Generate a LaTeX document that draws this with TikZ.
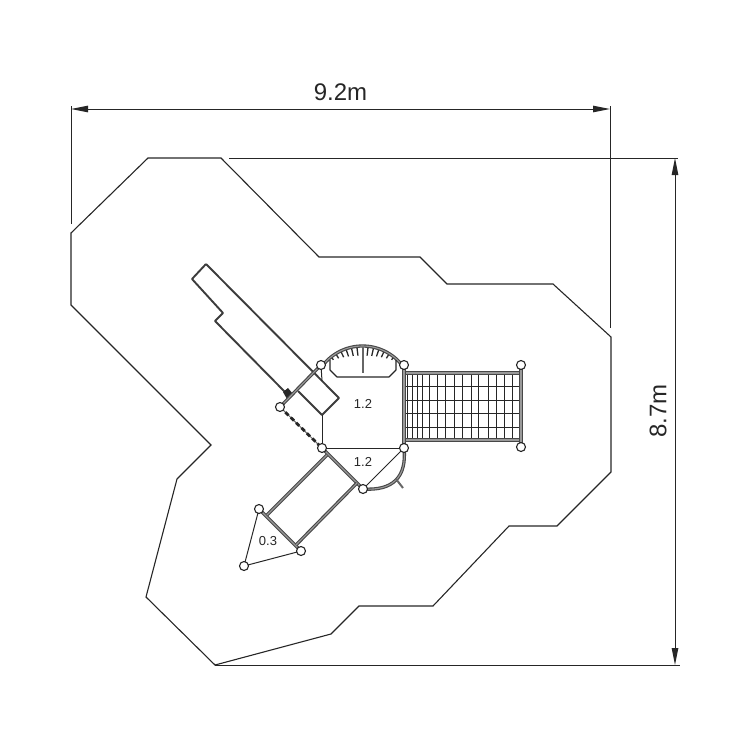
\documentclass[tikz,border=0pt]{standalone}
\usepackage{fontspec}
\setmainfont{Liberation Sans}
\usetikzlibrary{arrows.meta}
\definecolor{ink}{HTML}{262626}
\pgfdeclarelayer{under}
\pgfsetlayers{under,main}
\tikzset{
  thin line/.style={draw=ink,line width=1pt},
  site/.style={draw=ink,line width=1.1pt,line join=miter},
  dim/.style={draw=ink,line width=1pt},
  dimarrow/.style={draw=ink,line width=1pt,{Triangle[length=17pt,width=6.5pt]}-{Triangle[length=17pt,width=6.5pt]}},
  rail/.style={draw=ink!85,line width=1.1pt,double=black!40,double distance=1.1pt},
  heavy/.style={draw=ink!90,line width=1.9pt,line join=round},
  net/.style={draw=ink,line width=1pt},
  post/.style={circle,draw=ink,line width=1.1pt,fill=white,inner sep=0pt,minimum size=9pt},
  label/.style={text=ink,inner sep=0pt,font=\fontsize{13}{13}\selectfont},
  bigtext/.style={text=ink,inner sep=0pt,font=\fontsize{24}{24}\selectfont}
}
\begin{document}
\begin{tikzpicture}[x=1pt,y=-1pt]
\useasboundingbox (0,0) rectangle (750,750);
% posts
\node[post] (p1) at (321,365) {};
\node[post] (p2) at (404,365) {};
\node[post] (p3) at (322,448) {};
\node[post] (p4) at (404,448) {};
\node[post] (p5) at (363,489) {};
\node[post] (p6) at (280,407) {};
\node[post] (p7) at (259,509) {};
\node[post] (p8) at (301,551) {};
\node[post] (p9) at (244,566) {};
\node[post] (p10) at (521,365) {};
\node[post] (p11) at (521,447) {};
% heights
\node[label] (h1) at (363,404) {1.2};
\node[label] (h2) at (363,462) {1.2};
\node[label] (h3) at (268,541) {0.3};
\node[bigtext] (w) at (340.5,92) {9.2m};
\node[bigtext,rotate=90] (h) at (658,411) {8.7m};
\begin{pgfonlayer}{under}
% site outline
\draw[site] (148,158)--(221,158)--(319,257)--(420,257)--(447,284)--(553,284)--(611,337)--(611,472)--(557,526)--(509,526)--(433,606)--(359,606)--(331,634)--(215,665)--(146,597)--(177,479)--(211,445)--(71,305)--(71,233)--cycle;
% dimensions
\coordinate (dl) at (71,109); \coordinate (dr) at (610,109);
\coordinate (dt) at (675,158); \coordinate (db) at (675,665);
\draw[dim] (71,106)--(71,224);
\draw[dim] (610,106)--(610,328);
\draw[dim] (229,158)--(678,158);
\draw[dim] (215,665)--(680,665);
\draw[dimarrow] (dl)--(dr);
\draw[dimarrow] (dt)--(db);
% upper slide
\draw[heavy] (206,264)--(192,279)--(223,313)--(215,321)--(285,392);
\draw[heavy] (206,264)--(339,398)--(322,415)--(298,391);
\fill[ink] (283,392)--(288,388)--(293,394)--(287,399)--cycle;
% platform
\draw[thin line] (p1.center)--(322,381);
\draw[thin line] (322,415)--(p3.center);
\draw[thin line] (p3.center)--(p4.center);
\draw[thin line] (p4.center)--(p5.center);
\draw[thin line] (p7.center)--(p9.center)--(p8.center);
\draw[rail] (p1.center)--(p6.center);
\draw[rail] (p3.center)--(p5.center);
\draw[rail] (p7.center)--(p8.center);
% chain
\draw[draw=ink!70,line width=1pt] (p6.center)--(p3.center);
\draw[draw=ink,line width=2.8pt,dash pattern=on 4.5pt off 3pt] (p6.center)--(p3.center);
% arch
\begin{scope}[shift={(362.5,396.5)}]
\foreach \a in {-44.8,-38.4,...,45}{
  \pgfmathsetmacro{\r}{41+8*(\a/45)*(\a/45)}
  \draw[draw=ink,line width=1.3pt] ({50*sin(\a)},{-50*cos(\a)})--({\r*sin(\a)},{-\r*cos(\a)});
}
\draw[rail] plot[domain=-53:53,samples=31,smooth] ({50.5*sin(\x)},{-50.5*cos(\x)});
\end{scope}
\draw[draw=ink,line width=1.1pt,line join=round] (330,360)--(330,370)--(337,377)--(389,377)--(396,370)--(396,360);
\draw[draw=black!60,line width=2pt] (363,347)--(363,373);
% net
\foreach \x in {407,412,417,422,429,437,445,454,462,471,478,488,496,504,512}{
  \draw[net] (\x,374)--(\x,439);
}
\foreach \y in {386,400,413,427}{
  \draw[net] (405,\y)--(520,\y);
}
\coordinate (nw) at (405,373); \coordinate (ne) at (520,373);
\coordinate (sw) at (405,440); \coordinate (se) at (520,440);
\draw[rail] (nw)--(ne);
\draw[rail] (sw)--(se);
\draw[rail] (p2.center)--(p4.center);
\draw[rail] (p10.center)--(p11.center);
% lower slide
\draw[rail] (327,455)--(267,515);
\draw[rail] (357,483)--(296,545);
% curved rail
\draw[rail] (p4.center) .. controls (407,477) and (393,491) .. (p5.center);
\draw[draw=ink!70,line width=2pt] (396,479)--(403,488);
\end{pgfonlayer}
\end{tikzpicture}
\end{document}
